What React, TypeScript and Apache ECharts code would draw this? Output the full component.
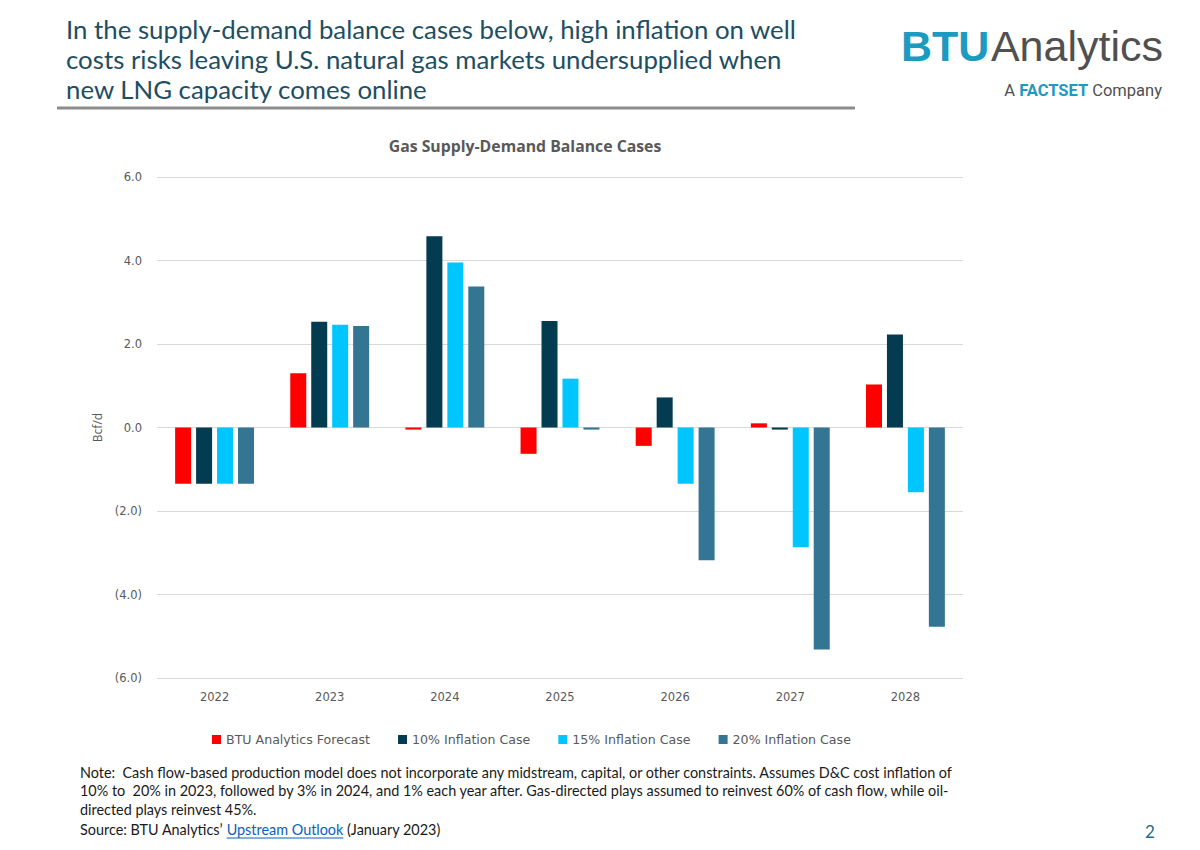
import React, { useEffect, useRef } from "react";
import * as echarts from "echarts";

const years = ["2022", "2023", "2024", "2025", "2026", "2027", "2028"];
const seriesNames = [
  "BTU Analytics Forecast",
  "10% Inflation Case",
  "15% Inflation Case",
  "20% Inflation Case",
];
const btuForecast = [-1.35, 1.3, -0.05, -0.63, -0.44, 0.1, 1.03];
const inflation10 = [-1.35, 2.53, 4.58, 2.55, 0.72, -0.05, 2.23];
const inflation15 = [-1.35, 2.46, 3.95, 1.17, -1.35, -2.87, -1.55];
const inflation20 = [-1.35, 2.43, 3.38, -0.05, -3.18, -5.32, -4.77];
const seriesColors = ["#FF0000", "#033B50", "#00C6FF", "#337592"];

const headerLines = [
  "In the supply-demand balance cases below, high inflation on well",
  "costs risks leaving U.S. natural gas markets undersupplied when",
  "new LNG capacity comes online",
];
const noteLines = [
  "Note:  Cash flow-based production model does not incorporate any midstream, capital, or other constraints. Assumes D&C cost inflation of",
  "10% to  20% in 2023, followed by 3% in 2024, and 1% each year after. Gas-directed plays assumed to reinvest 60% of cash flow, while oil-",
  "directed plays reinvest 45%.",
];
const sourcePre = "Source: BTU Analytics\u2019 ";
const sourceLink = "Upstream Outlook";
const sourcePost = " (January 2023)";

function measure(text: string, font: string): number {
  const c = document.createElement("canvas").getContext("2d");
  if (!c) return text.length * 7;
  c.font = font;
  return c.measureText(text).width;
}

export default function App() {
  const ref = useRef<HTMLDivElement>(null);
  useEffect(() => {
    if (!ref.current) return;
    const chart = echarts.init(ref.current, undefined, { renderer: "svg" });
    const data = [btuForecast, inflation10, inflation15, inflation20];
    const titleFont = "Lato, 'Open Sans', sans-serif";
    const uiFont = "'Open Sans', sans-serif";
    const axFont = "'DejaVu Sans', Verdana, sans-serif";
    const noteFont = `14.4px ${titleFont}`;
    const graphic: any[] = [];
    headerLines.forEach((t, i) => {
      graphic.push({
        type: "text",
        x: 66,
        y: 29 + i * 30,
        style: { text: t, fill: "#1D4E63", font: `25.8px ${titleFont}`, verticalAlign: "middle" },
      });
    });
    graphic.push({
      type: "line",
      shape: { x1: 57, y1: 108, x2: 855, y2: 108 },
      style: { stroke: "#8c8c8c", lineWidth: 3 },
    });
    // logo
    graphic.push({
      type: "text",
      x: 1163,
      y: 46,
      style: {
        text: "{b|BTU}{s| }{a|Analytics}",
        align: "right",
        verticalAlign: "middle",
        rich: {
          b: { fill: "#1C9AC0", font: `bold 43px 'Liberation Sans', Arial, sans-serif` },
          s: { font: `6px sans-serif` },
          a: { fill: "#505050", font: `43px 'Liberation Sans', Arial, sans-serif` },
        },
      },
    });
    graphic.push({
      type: "text",
      x: 1162,
      y: 90,
      style: {
        text: "{a|A }{f|FACTSET}{a| Company}",
        align: "right",
        verticalAlign: "middle",
        rich: {
          a: { fill: "#505050", font: `16.5px Roboto, sans-serif` },
          f: { fill: "#1C9AC0", font: `bold 16.5px Roboto, sans-serif` },
        },
      },
    });
    graphic.push({
      type: "text",
      x: 525,
      y: 146,
      style: {
        text: "Gas Supply-Demand Balance Cases",
        fill: "#595959",
        font: `bold 15.8px ${uiFont}`,
        align: "center",
        verticalAlign: "middle",
      },
    });
    noteLines.forEach((t, i) => {
      graphic.push({
        type: "text",
        x: 80,
        y: 772 + i * 18.5,
        style: { text: t, fill: "#1a1a1a", font: noteFont, verticalAlign: "middle" },
      });
    });
    const preW = measure(sourcePre, noteFont);
    const linkW = measure(sourceLink, noteFont);
    graphic.push({
      type: "text",
      x: 80,
      y: 829,
      style: {
        text: `{n|${sourcePre}}{l|${sourceLink}}{n|${sourcePost}}`,
        verticalAlign: "middle",
        rich: {
          n: { fill: "#1a1a1a", font: noteFont },
          l: { fill: "#0563C1", font: noteFont },
        },
      },
    });
    graphic.push({
      type: "line",
      shape: { x1: 80 + preW, y1: 838, x2: 80 + preW + linkW, y2: 838 },
      style: { stroke: "#0563C1", lineWidth: 1 },
    });
    graphic.push({
      type: "text",
      x: 1150,
      y: 831,
      style: { text: "2", fill: "#1F6B8A", font: `17px ${titleFont}`, align: "center", verticalAlign: "middle" },
    });

    chart.setOption({
      animation: false,
      backgroundColor: "#ffffff",
      grid: { left: 157, right: 237, top: 177, bottom: 172, containLabel: false },
      legend: {
        data: seriesNames,
        top: 728,
        left: 207,
        icon: "rect",
        itemWidth: 9,
        itemHeight: 9,
        itemGap: 28,
        textStyle: { color: "#595959", fontSize: 12.6, fontFamily: axFont },
      },
      xAxis: {
        type: "category",
        data: years,
        axisLine: { show: false, onZero: false },
        axisTick: { show: false },
        axisLabel: { color: "#595959", fontSize: 11.5, fontFamily: axFont, margin: 13 },
      },
      yAxis: {
        type: "value",
        min: -6,
        max: 6,
        interval: 2,
        name: "Bcf/d",
        nameLocation: "middle",
        nameGap: 52,
        nameRotate: 90,
        nameTextStyle: { color: "#595959", fontSize: 12, fontFamily: uiFont },
        axisLine: { show: false },
        axisTick: { show: false },
        splitLine: { lineStyle: { color: "#d9d9d9", width: 1 } },
        axisLabel: {
          color: "#595959",
          fontSize: 11.5,
          fontFamily: axFont,
          margin: 15,
          formatter: (v: number) => (v < 0 ? `(${Math.abs(v).toFixed(1)})` : v.toFixed(1)),
        },
      },
      series: seriesNames.map((n, i) => ({
        name: n,
        type: "bar",
        data: data[i],
        barWidth: 16,
        barGap: "31%",
        itemStyle: { color: seriesColors[i] },
      })),
      graphic,
    });
    return () => chart.dispose();
  }, []);
  return <div ref={ref} style={{ width: 1200, height: 850, position: "absolute", left: 0, top: 0 }} />;
}
